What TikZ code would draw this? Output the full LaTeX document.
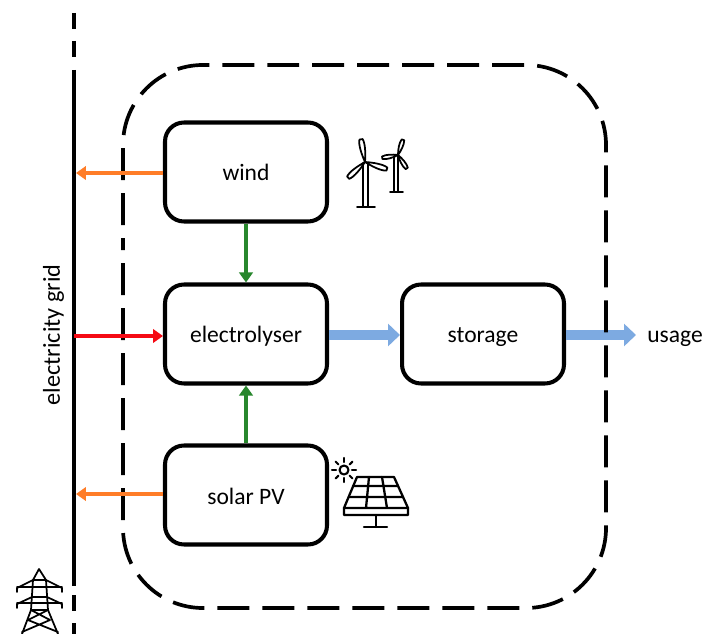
\documentclass[tikz,border=0pt]{standalone}
\usepackage{fontspec}
\setmainfont{Carlito}
\usetikzlibrary{arrows.meta}

\tikzset{
  blockbox/.style={draw,line width=2.3pt,rounded corners=0.38cm,minimum width=3.24cm,minimum height=1.98cm,text height=0.36cm,text depth=0cm,font=\fontsize{13.4}{16}\selectfont},
  plainlabel/.style={text height=0.36cm,text depth=0cm,font=\fontsize{13.4}{16}\selectfont},
  gridarrow/.style={line width=1.9pt,-{Triangle[length=0.2cm,width=0.27cm]}},
  flowarrow/.style={draw=flowblue,line width=0.22cm,-{Triangle[length=0.24cm,width=0.44cm]}},
  iconline/.style={line width=1pt,line join=round,line cap=round}
}
\definecolor{feedorange}{RGB}{255,125,40}
\definecolor{flowblue}{RGB}{125,170,225}
\definecolor{windgreen}{RGB}{40,135,45}
\definecolor{gridred}{RGB}{245,10,20}

\begin{document}
\begin{tikzpicture}[x=0.02cm,y=-0.02cm]
  \useasboundingbox (0,0) rectangle (702,634);
  \coordinate (G1) at (76,173);
  \coordinate (G2) at (74,336);
  \coordinate (G3) at (76,494);
  \coordinate (U1) at (636,335);

  \node[blockbox] (W) at (246,172) {wind};
  \node[blockbox] (E) at (246,334) {electrolyser};
  \node[blockbox] (S) at (246,495) {solar PV};
  \node[blockbox] (T) at (483,334) {storage};
  \node[plainlabel] (usage) at (675,334) {usage};
  \node[plainlabel,rotate=90,font=\fontsize{13.8}{16}\selectfont] (grid) at (51,335) {electricity grid};

  \draw[flowarrow] (E.east |- U1) -- (T.west |- U1);
  \draw[flowarrow] (T.east |- U1) -- (U1);

  % system boundary and grid line
  \draw[line width=2.1pt,dash pattern=on 0.64cm off 0.26cm,dash phase=0.4cm,rounded corners=1.6cm] (123,330) -- (123,65) -- (606,65) -- (606,608) -- (123,608) -- cycle;
  \draw[line width=2.1pt] (74,70) -- (74,586);
  \draw[line width=2.1pt] (74,13) -- (74,29) (74,41) -- (74,57) (74,595) -- (74,611) (74,623) -- (74,634);

  \draw[gridarrow,feedorange] (W.west |- G1) -- (G1);
  \draw[gridarrow,feedorange] (S.west |- G3) -- (G3);
  \draw[gridarrow,gridred] (G2) -- (E.west |- G2);
  \draw[gridarrow,windgreen] (W) -- (E);
  \draw[gridarrow,windgreen] (S) -- (E);

  % wind turbines
  \draw[iconline] (363,163) -- (363,207) (368,163) -- (368,207) (357,207) -- (375,207);
  \draw[iconline] (394,155) -- (394,192) (398,155) -- (398,192) (390,192) -- (403,192);
  \foreach \a in {100,-18,223}
    \draw[iconline,fill=white,shift={(365,162)},rotate=\a] (0,0) .. controls (8,2) and (18,3.6) .. (23,1.6) -- (23,-1.6) .. controls (18,-3.6) and (8,-2) .. (0,0);
  \foreach \a in {72,190,-57}
    \draw[iconline,fill=white,shift={(398,155)},rotate=\a] (0,0) .. controls (5,1.6) and (12,2.8) .. (16,1.3) -- (16,-1.3) .. controls (12,-2.8) and (5,-1.6) .. (0,0);

  % solar panel
  \draw[iconline,line width=1.3pt] (357,477) -- (394,477) -- (408,508) -- (408,515) -- (344,515) -- (344,508) -- cycle;
  \draw[iconline,line width=1.3pt] (344,508) -- (408,508) (353,486) -- (398,486) (349,497) -- (403,497) (369,477) -- (366,508) (382,477) -- (387,508);
  \draw[iconline,line width=1.3pt] (376,515) -- (376,527) (364,527) -- (387,527);
  \draw[iconline,line width=1.2pt] (344,470) circle (4.5);
  \foreach \a in {0,45,...,315}
    \draw[iconline,line width=1.2pt,shift={(344,470)},rotate=\a] (8,0) -- (12,0);

  % pylon
  \draw[iconline] (33,580) -- (39,569) -- (46,580) -- (48,610) -- (58,634) (33,580) -- (31,610) -- (22,634) (33,580) -- (46,580);
  \draw[iconline] (33,580) -- (17,588) -- (17,592) (46,580) -- (62,588) -- (62,592) (17,587) -- (62,587);
  \draw[iconline] (32,597) -- (17,604) -- (17,608) (47,597) -- (62,604) -- (62,608) (17,603) -- (62,603) (32,597) -- (47,597);
  \draw[iconline] (31,610) -- (48,610) (31,610) -- (50,620) -- (22,632) (48,610) -- (28,620) -- (58,632);
\end{tikzpicture}
\end{document}
